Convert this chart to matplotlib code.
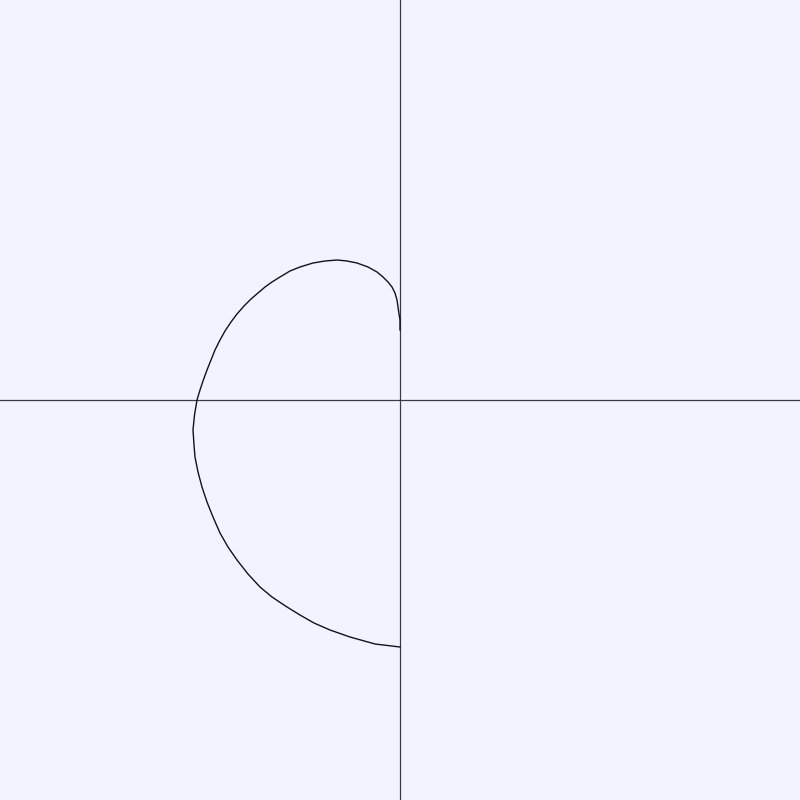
import matplotlib
matplotlib.use('Agg')
import matplotlib.pyplot as plt

# curve points (origin at centre, 100 px per unit)
curve_x = [0.00, -0.25, -0.50, -0.70, -0.86, -1.00, -1.13, -1.28, -1.40, -1.52,
           -1.63, -1.72, -1.80, -1.87, -1.93, -1.98, -2.02, -2.05, -2.06, -2.07,
           -2.055, -2.03, -2.00, -1.97, -1.93, -1.89, -1.85, -1.80, -1.75, -1.69,
           -1.63, -1.56, -1.49, -1.42, -1.35, -1.28, -1.20, -1.10, -1.00, -0.87,
           -0.75, -0.63, -0.53, -0.43, -0.32, -0.23, -0.17, -0.12, -0.08, -0.05,
           -0.03, -0.02, -0.01, 0.00, 0.00]
curve_y = [-2.47, -2.44, -2.37, -2.30, -2.23, -2.15, -2.07, -1.97, -1.87, -1.74,
           -1.60, -1.47, -1.33, -1.17, -1.02, -0.87, -0.72, -0.57, -0.45, -0.30,
           -0.15, 0.00, 0.10, 0.19, 0.30, 0.40, 0.50, 0.60, 0.69, 0.78,
           0.86, 0.94, 1.01, 1.07, 1.13, 1.18, 1.23, 1.29, 1.33, 1.37,
           1.39, 1.40, 1.39, 1.37, 1.33, 1.28, 1.23, 1.18, 1.13, 1.07,
           1.00, 0.93, 0.86, 0.80, 0.70]

bg = '#f1f4fe'
fig = plt.figure(figsize=(8, 8), dpi=100, facecolor=bg)
ax = fig.add_axes([0, 0, 1, 1])
ax.set_facecolor(bg)
ax.set_xlim(-4, 4)
ax.set_ylim(-4, 4)

ax.axhline(0, color='#3a3a44', lw=0.9)
ax.axvline(0, color='#3a3a44', lw=0.9)
ax.plot(curve_x, curve_y, color='#111118', lw=1.0)

ax.set_axis_off()
fig.savefig('out.png', dpi=100, facecolor=bg)
